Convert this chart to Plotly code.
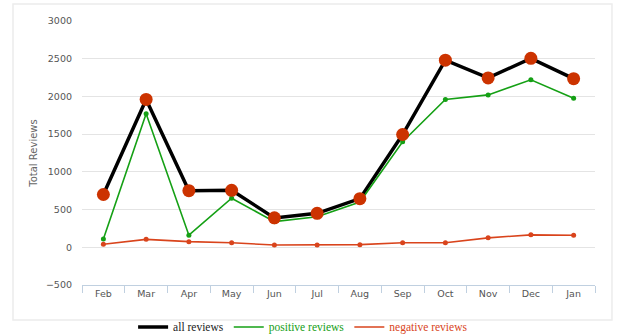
import plotly.graph_objects as go

months = ["Feb", "Mar", "Apr", "May", "Jun", "Jul", "Aug", "Sep", "Oct", "Nov", "Dec", "Jan"]
all_reviews = [700, 1960, 750, 755, 390, 450, 645, 1495, 2480, 2245, 2505, 2235]
positive_reviews = [110, 1770, 160, 650, 340, 405, 600, 1400, 1960, 2020, 2220, 1975]
negative_reviews = [40, 105, 75, 60, 30, 30, 35, 60, 60, 125, 165, 160]
y_ticks = [-500, 0, 500, 1000, 1500, 2000, 2500, 3000]

BLACK = "#000000"
GREEN = "#15a015"
RED = "#cc3300"
NEG = "#d9441c"

fig = go.Figure()
fig.add_trace(go.Scatter(x=months, y=all_reviews, mode="lines", name="all reviews",
                         line=dict(color=BLACK, width=3.5)))
fig.add_trace(go.Scatter(x=months, y=positive_reviews, mode="lines",
                         name='<span style="color:#15a015">positive reviews</span>',
                         line=dict(color=GREEN, width=1.6)))
fig.add_trace(go.Scatter(x=months, y=negative_reviews, mode="lines",
                         name='<span style="color:#d9441c">negative reviews</span>',
                         line=dict(color=NEG, width=1.6)))
fig.add_trace(go.Scatter(x=months, y=positive_reviews, mode="markers", showlegend=False,
                         marker=dict(color=GREEN, size=5)))
fig.add_trace(go.Scatter(x=months, y=negative_reviews, mode="markers", showlegend=False,
                         marker=dict(color=NEG, size=5)))
fig.add_trace(go.Scatter(x=months, y=all_reviews, mode="markers", showlegend=False,
                         marker=dict(color=RED, size=13)))

fig.update_layout(
    width=626, height=334,
    margin=dict(l=82, r=31, t=21, b=49, autoexpand=False),
    paper_bgcolor="white", plot_bgcolor="white",
    font=dict(family="DejaVu Sans", size=9, color="#666666"),
    showlegend=True,
    legend=dict(orientation="h", x=0.431, xanchor="center", y=-0.159, yanchor="middle",
                font=dict(family="Liberation Serif", size=11.5, color="#222222"),
                itemwidth=30, tracegroupgap=0, bgcolor="rgba(0,0,0,0)"),
    xaxis=dict(type="category", range=[-0.5, 11.5], showgrid=False,
               showline=True, linecolor="#c0d0e0", linewidth=1,
               ticks="outside", tickson="boundaries", ticklen=7, tickcolor="#c0d0e0",
               tickfont=dict(family="DejaVu Sans", size=9.5, color="#555555"),
               zeroline=False, fixedrange=True),
    yaxis=dict(range=[-500, 3000], tickvals=y_ticks, showgrid=True, gridcolor="#e4e4e4",
               gridwidth=1, zeroline=False, showline=False, ticks="",
               ticklabelstandoff=9,
               tickfont=dict(family="DejaVu Sans", size=9.5, color="#555555"),
               title=dict(text="Total Reviews", standoff=6,
                          font=dict(family="DejaVu Sans", size=10, color="#666666"))),
    shapes=[dict(type="rect", xref="paper", yref="paper",
                 x0=-0.1345, x1=1.0331, y0=-0.1326, y1=1.0644,
                 line=dict(color="#ececec", width=1.5), layer="below")],
)

fig.write_html("out.html")
